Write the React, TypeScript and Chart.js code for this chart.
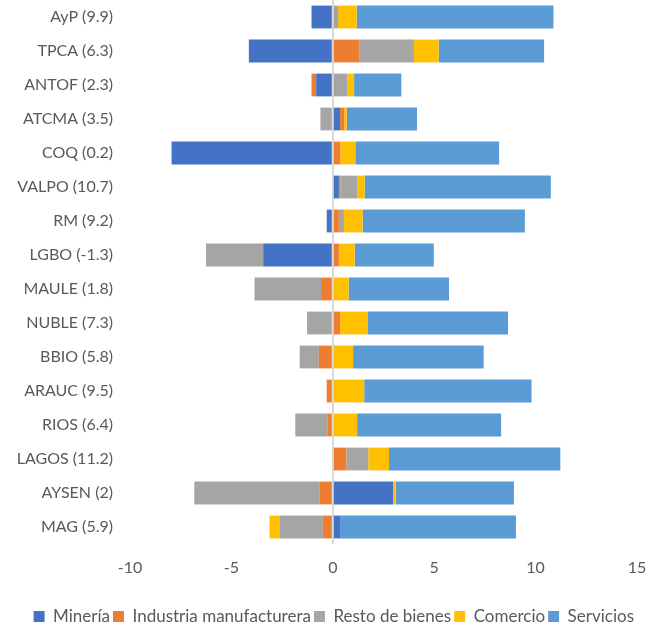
import React, { useEffect, useRef } from "react";
import { Chart, registerables } from "chart.js";

Chart.register(...registerables);

const categories = [
  "AyP (9.9)", "TPCA (6.3)", "ANTOF (2.3)", "ATCMA (3.5)", "COQ (0.2)", "VALPO (10.7)",
  "RM (9.2)", "LGBO (-1.3)", "MAULE (1.8)", "NUBLE (7.3)", "BBIO (5.8)", "ARAUC (9.5)",
  "RIOS (6.4)", "LAGOS (11.2)", "AYSEN (2)", "MAG (5.9)",
];
const mineria = [-1.05, -4.14, -0.82, 0.36, -7.95, 0.3, -0.3, -3.43, 0, 0, 0, 0, 0, 0, 2.97, 0.36];
const industria = [0, 1.3, -0.23, 0.2, 0.37, 0.07, 0.3, 0.3, -0.58, 0.36, -0.69, -0.3, -0.27, 0.67, -0.64, -0.49];
const resto = [0.26, 2.7, 0.72, -0.61, 0, 0.85, 0.25, -2.82, -3.28, -1.27, -0.94, 0, -1.58, 1.08, -6.19, -2.12];
const comercio = [0.92, 1.22, 0.33, 0.13, 0.74, 0.35, 0.92, 0.78, 0.78, 1.35, 1.0, 1.55, 1.2, 1.02, 0.13, -0.51];
const servicios = [9.7, 5.2, 2.33, 3.46, 7.09, 9.18, 8.0, 3.9, 4.95, 6.93, 6.44, 8.25, 7.1, 8.45, 5.83, 8.67];

const seriesNames = ["Minería", "Industria manufacturera", "Resto de bienes", "Comercio", "Servicios"];
const seriesColors = ["#4472C4", "#ED7D31", "#A5A5A5", "#FFC000", "#5B9BD5"];
const seriesValues = [mineria, industria, resto, comercio, servicios];

const FONT = "Lato, 'Open Sans', sans-serif";

const zeroPadding = (scale: any) => {
  scale.paddingTop = 0;
  scale.paddingBottom = 0;
  scale.paddingLeft = 0;
  scale.paddingRight = 0;
};

export default function App() {
  const ref = useRef<HTMLCanvasElement | null>(null);
  useEffect(() => {
    if (!ref.current) return;
    const chart = new Chart(ref.current, {
      type: "bar",
      data: {
        labels: categories,
        datasets: seriesNames.map((name, i) => ({
          label: name,
          data: seriesValues[i],
          backgroundColor: seriesColors[i],
          borderWidth: 0,
          barPercentage: 0.67,
          categoryPercentage: 1,
        })),
      },
      options: {
        indexAxis: "y",
        animation: false,
        responsive: false,
        maintainAspectRatio: false,
        layout: { autoPadding: false, padding: { top: 0, right: 12, left: 0, bottom: 0 } },
        plugins: {
          legend: {
            position: "bottom",
            align: "end",
            maxHeight: 22,
            labels: {
              boxWidth: 11,
              boxHeight: 11,
              padding: 3,
              color: "#595959",
              font: { family: FONT, size: 17 },
            },
          },
          tooltip: { enabled: false },
        },
        scales: {
          x: {
            stacked: true,
            min: -10,
            max: 15,
            z: 1,
            ticks: { stepSize: 5, color: "#595959", font: { family: FONT, size: 16 }, padding: 14 },
            grid: {
              drawTicks: false,
              color: (ctx: any) => (ctx.tick && ctx.tick.value === 0 ? "#d9d9d9" : "rgba(0,0,0,0)"),
              lineWidth: (ctx: any) => (ctx.tick && ctx.tick.value === 0 ? 2 : 0),
            },
            border: { display: false },
            afterFit: (scale: any) => { scale.height = 61; zeroPadding(scale); },
          },
          y: {
            stacked: true,
            ticks: { color: "#595959", font: { family: FONT, size: 16 }, padding: 17 },
            grid: { display: false, drawTicks: false },
            border: { display: false },
            afterFit: (scale: any) => { scale.width = 130; zeroPadding(scale); },
          },
        },
      },
    });
    return () => chart.destroy();
  }, []);
  return (
    <div style={{ position: "fixed", left: 0, top: 0, width: 649, height: 627, background: "#fff" }}>
      <canvas ref={ref} width={649} height={627} style={{ width: 649, height: 627 }} />
    </div>
  );
}
